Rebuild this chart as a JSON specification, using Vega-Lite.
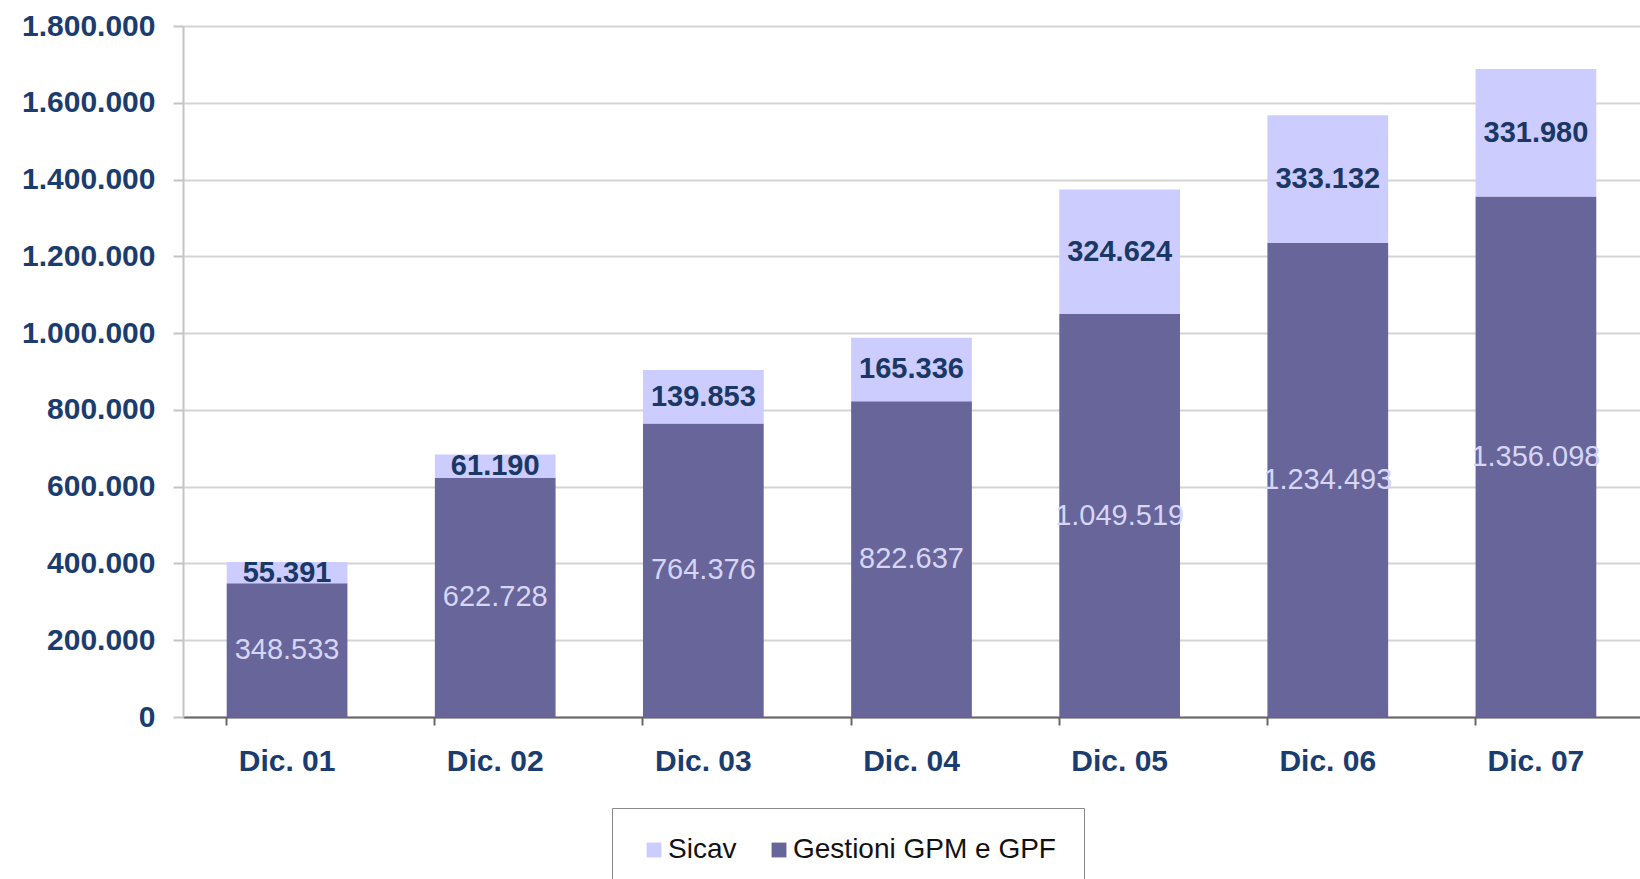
{
  "$schema": "https://vega.github.io/schema/vega-lite/v6.json",
  "width": 1457,
  "height": 691,
  "autosize": "none",
  "padding": {"left": 183, "top": 26, "right": 0, "bottom": 162},
  "background": "white",
  "config": {
    "locale": {"number": {"decimal": ",", "thousands": ".", "grouping": [3], "currency": ["€", ""]}},
    "view": {"stroke": null},
    "font": "Liberation Sans"
  },
  "data": {
    "values": [
      {"period": "Dic. 01", "series": "Gestioni GPM e GPF", "value": 348533},
      {"period": "Dic. 01", "series": "Sicav", "value": 55391},
      {"period": "Dic. 02", "series": "Gestioni GPM e GPF", "value": 622728},
      {"period": "Dic. 02", "series": "Sicav", "value": 61190},
      {"period": "Dic. 03", "series": "Gestioni GPM e GPF", "value": 764376},
      {"period": "Dic. 03", "series": "Sicav", "value": 139853},
      {"period": "Dic. 04", "series": "Gestioni GPM e GPF", "value": 822637},
      {"period": "Dic. 04", "series": "Sicav", "value": 165336},
      {"period": "Dic. 05", "series": "Gestioni GPM e GPF", "value": 1049519},
      {"period": "Dic. 05", "series": "Sicav", "value": 324624},
      {"period": "Dic. 06", "series": "Gestioni GPM e GPF", "value": 1234493},
      {"period": "Dic. 06", "series": "Sicav", "value": 333132},
      {"period": "Dic. 07", "series": "Gestioni GPM e GPF", "value": 1356098},
      {"period": "Dic. 07", "series": "Sicav", "value": 331980}
    ]
  },
  "transform": [
    {"stack": "value", "groupby": ["period"], "sort": [{"field": "series", "order": "ascending"}], "as": ["v0", "v1"]}
  ],
  "encoding": {
    "x": {
      "field": "period",
      "type": "nominal",
      "sort": null,
      "scale": {"paddingInner": 0.42, "paddingOuter": 0.21},
      "axis": {
        "title": null,
        "labelAngle": 0,
        "labelFontSize": 30,
        "labelFontWeight": "bold",
        "labelColor": "#1B3C6E",
        "labelPadding": 21,
        "tickSize": 8,
        "tickWidth": 2,
        "tickColor": "#666666",
        "domainColor": "#666666",
        "domainWidth": 2,
        "bandPosition": 0,
        "grid": false
      }
    }
  },
  "layer": [
    {
      "mark": {"type": "bar"},
      "encoding": {
        "y": {
          "field": "v0",
          "type": "quantitative",
          "scale": {"domain": [0, 1800000], "nice": false},
          "axis": {
            "title": null,
            "values": [0, 200000, 400000, 600000, 800000, 1000000, 1200000, 1400000, 1600000, 1800000],
            "format": ",d",
            "labelFontSize": 30,
            "labelFontWeight": "bold",
            "labelColor": "#1B3C6E",
            "labelPadding": 18,
            "tickSize": 10,
            "tickWidth": 2,
            "tickColor": "#c4c4c4",
            "domainColor": "#c4c4c4",
            "domainWidth": 2,
            "gridColor": "#d4d4d4",
            "gridWidth": 2
          }
        },
        "y2": {"field": "v1"},
        "color": {
          "field": "series",
          "type": "nominal",
          "scale": {"domain": ["Sicav", "Gestioni GPM e GPF"], "range": ["#CCCCFF", "#67659A"]},
          "legend": {
            "title": null,
            "orient": "none",
            "legendX": 429,
            "legendY": 782,
            "direction": "horizontal",
            "labelFontSize": 28,
            "labelLimit": 500,
            "labelColor": "#111111",
            "labelFont": "Liberation Sans",
            "symbolType": "square",
            "symbolSize": 220,
            "symbolStrokeWidth": 0,
            "labelOffset": 0,
            "columnPadding": 28,
            "padding": 28,
            "strokeColor": "#888888",
            "fillColor": "white"
          }
        }
      }
    },
    {
      "transform": [
        {"filter": "datum.series == 'Sicav'"},
        {"fold": ["v0", "v1"], "as": ["edge", "pos"]}
      ],
      "mark": {"type": "text", "fontSize": 29, "fontWeight": "bold", "color": "#1B3763", "baseline": "middle"},
      "encoding": {
        "y": {"field": "pos", "aggregate": "mean", "type": "quantitative"},
        "text": {"field": "value", "aggregate": "max", "type": "quantitative", "format": ",d"}
      }
    },
    {
      "transform": [
        {"filter": "datum.series == 'Gestioni GPM e GPF'"},
        {"fold": ["v0", "v1"], "as": ["edge", "pos"]}
      ],
      "mark": {"type": "text", "fontSize": 29, "color": "#D6D6F6", "baseline": "middle"},
      "encoding": {
        "y": {"field": "pos", "aggregate": "mean", "type": "quantitative"},
        "text": {"field": "value", "aggregate": "max", "type": "quantitative", "format": ",d"}
      }
    }
  ]
}
